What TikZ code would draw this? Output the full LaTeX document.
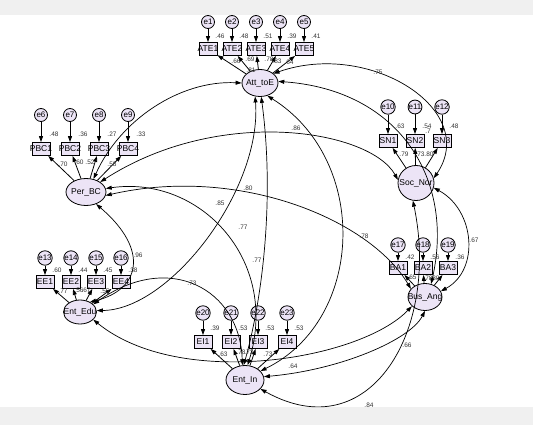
\documentclass[tikz,border=0pt]{standalone}
\usepackage{fontspec}
\setmainfont{Liberation Sans}
\usetikzlibrary{arrows.meta,shapes.geometric}
\definecolor{lav}{RGB}{236,228,246}
\definecolor{band}{RGB}{240,240,240}

\begin{document}
\begin{tikzpicture}[x=1pt,y=-1pt,
  lat/.style={ellipse, draw=black, thick, fill=lav, inner sep=0pt, minimum width=36pt, minimum height=27pt},
  ind/.style={rectangle, draw=black, thick, fill=lav, inner sep=0pt, minimum width=18pt, minimum height=13pt},
  err/.style={circle, draw=black, thick, fill=lav, inner sep=0pt, minimum size=13pt, font=\fontsize{8}{8}\selectfont},
  reg/.style={-{Triangle[length=6pt,width=4pt]}, thick},
  cov/.style={{Triangle[length=6pt,width=4pt]}-{Triangle[length=6pt,width=4pt]}, line width=0.7pt},
  val/.style={font=\fontsize{6.5}{7}\selectfont, inner sep=0pt, text=black!80},
  nm/.style={font=\fontsize{8.5}{9}\selectfont}]
\def\cBand{band}
% frame and bands
\useasboundingbox (0,0) rectangle (533,425);
\fill[\cBand] (0,0) rectangle (533,15);
\fill[\cBand] (0,407) rectangle (533,425);

% latent variables
\node[lat, label={[nm]center:Att\_toE}] (att) at (260,83) {};
\node[lat, minimum width=40pt, label={[nm]center:Per\_BC}] (pbc) at (86,192) {};
\node[lat, minimum width=36pt, minimum height=35pt, label={[nm]center:Soc\_Nor}] (soc) at (416,183) {};
\node[lat, minimum width=34pt, label={[nm]center:Bus\_Ang}] (bus) at (425,297) {};
\node[lat, minimum width=33pt, minimum height=24pt, label={[nm]center:Ent\_Edu}] (edu) at (80,312) {};
\node[lat, minimum width=38pt, minimum height=29pt, label={[nm]center:Ent\_In}] (ein) at (245,380) {};

% Att_toE
\foreach \i/\x/\v in {1/208/.46, 2/232/.48, 3/256/.51, 4/280/.39, 5/304/.41} {
  \node[ind, label={[nm]center:ATE\i}] (ate\i) at (\x,49) {};
  \node[err] (e\i) at (\x,22) {e\i};
  \draw[reg] (e\i) -- (ate\i);
  \draw[reg] (att) -- (ate\i);
  \node[val] at (\x+12,36) {\v};
}
\node[val] at (236,61) {.66};
\node[val] at (250,59) {.69};
\node[val] at (269,59) {.78};
\node[val] at (277,61) {.83};
\node[val] at (289,62) {.64};
\node[val] at (251,70) {.81};

% Per_BC
\foreach \i/\x/\n/\v in {1/41/6/.48, 2/70/7/.36, 3/99/8/.27, 4/128/9/.33} {
  \node[ind, label={[nm]center:PBC\i}] (pbc\i) at (\x,149) {};
  \node[err] (e\n) at (\x,115) {e\n};
  \draw[reg] (e\n) -- (pbc\i);
  \draw[reg] (pbc) -- (pbc\i);
  \node[val] at (\x+13,134) {\v};
}
\node[val] at (63,164) {.70};
\node[val] at (79,162) {.60};
\node[val] at (90,162) {.52};
\node[val] at (112,164) {.58};

% Soc_Nor
\foreach \i/\x/\n/\v in {1/388/10/.63, 2/415/11/.54, 3/442/12/.48} {
  \node[ind, label={[nm]center:SN\i}] (sn\i) at (\x,141) {};
  \node[err] (e\n) at (\x,107) {e\n};
  \draw[reg] (e\n) -- (sn\i);
  \draw[reg] (soc) -- (sn\i);
  \node[val] at (\x+12,126) {\v};
}
\node[val] at (404,154) {.79};
\node[val] at (420,154) {.73};
\node[val] at (429,154) {.80};

% Bus_Ang
\foreach \i/\x/\n/\v in {1/398/17/.42, 2/423/18/.56, 3/448/19/.36} {
  \node[ind, label={[nm]center:BA\i}] (ba\i) at (\x,268) {};
  \node[err] (e\n) at (\x,245) {e\n};
  \draw[reg] (e\n) -- (ba\i);
  \draw[reg] (bus) -- (ba\i);
  \node[val] at (\x+12,257) {\v};
}
\node[val] at (412,277) {.65};
\node[val] at (428,278) {.78};
\node[val] at (435,278) {.80};

% Ent_Edu
\foreach \i/\x/\n/\v in {1/45/13/.60, 2/71/14/.44, 3/96/15/.45, 4/121/16/.38} {
  \node[ind, label={[nm]center:EE\i}] (ee\i) at (\x,282) {};
  \node[err] (e\n) at (\x,258) {e\n};
  \draw[reg] (e\n) -- (ee\i);
  \draw[reg] (edu) -- (ee\i);
  \node[val] at (\x+12,270) {\v};
}
\node[val] at (63,291) {.77};
\node[val] at (79,290) {.56};
\node[val] at (86,290) {.67};
\node[val] at (105,291) {.55};

% Ent_In
\foreach \i/\x/\n/\v in {1/203/20/.39, 2/231/21/.53, 3/258/22/.53, 4/287/23/.53} {
  \node[ind, label={[nm]center:EI\i}] (ei\i) at (\x,342) {};
  \node[err] (e\n) at (\x,313) {e\n};
  \draw[reg] (e\n) -- (ei\i);
  \draw[reg] (ein) -- (ei\i);
  \node[val] at (\x+12,328) {\v};
}
\node[val] at (223,354) {.63};
\node[val] at (241,352) {.78};
\node[val] at (249,352) {.73};
\node[val] at (268,354) {.73};

% covariances
\draw[cov] (att.180) .. controls (180,80) and (120,120) .. (pbc.60);
\draw[cov] (att.35) .. controls (370,40) and (480,110) .. (soc.15);
\draw[cov] (att.5) .. controls (400,90) and (455,180) .. (bus.65);
\draw[cov] (att.250) .. controls (262,190) and (170,310) .. (edu.5);
\draw[cov] (att.275) .. controls (275,200) and (262,300) .. (ein.95);
\draw[cov] (att.300) .. controls (370,160) and (365,320) .. (ein.30);
\draw[cov] (pbc.35) .. controls (220,105) and (370,130) .. (soc.170);
\draw[cov] (pbc.-10) .. controls (240,165) and (370,220) .. (bus.150);
\draw[cov] (pbc.10) .. controls (200,175) and (280,260) .. (ein.80);
\draw[cov] (pbc.-50) .. controls (150,250) and (140,290) .. (edu.45);
\draw[cov] (edu.30) .. controls (170,250) and (240,290) .. (ein.100);
\draw[cov] (edu.-30) .. controls (180,390) and (360,360) .. (bus.215);
\draw[cov] (soc.-15) .. controls (475,210) and (480,270) .. (bus.20);
\draw[cov] (ein.10) .. controls (340,370) and (410,340) .. (bus.270);
\draw[cov] (ein.-30) .. controls (370,450) and (440,330) .. (soc.260);

\node[val] at (378,72) {.75};
\node[val] at (296,128) {.86};
\node[val] at (248,188) {.80};
\node[val] at (220,203) {.85};
\node[val] at (243,227) {.77};
\node[val] at (257,260) {.77};
\node[val] at (364,236) {.78};
\node[val] at (138,255) {.96};
\node[val] at (192,283) {.73};
\node[val] at (474,240) {.67};
\node[val] at (407,345) {.66};
\node[val] at (293,366) {.64};
\node[val] at (369,405) {.84};
\node[val] at (428,131) {.7};
\end{tikzpicture}
\end{document}
